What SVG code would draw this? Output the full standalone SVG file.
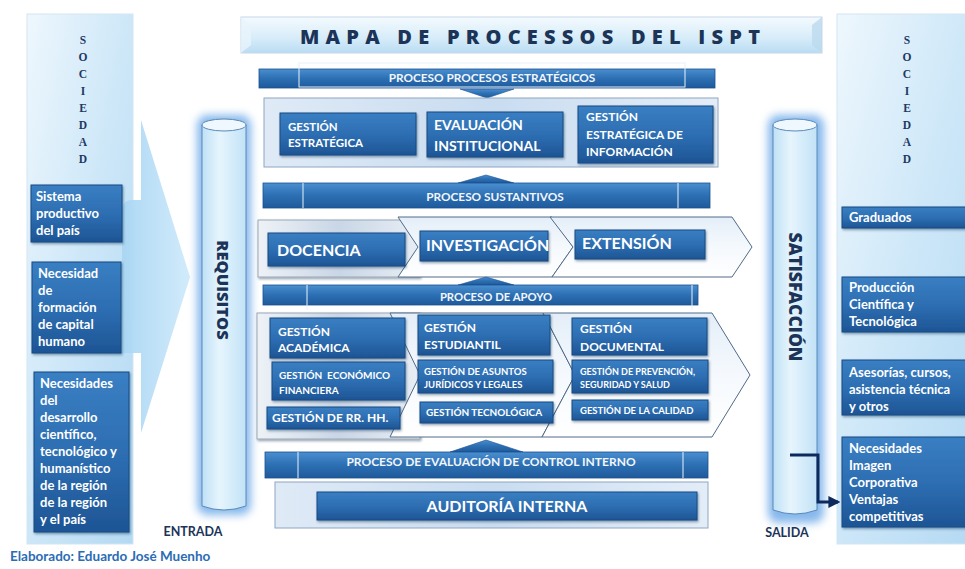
<svg xmlns="http://www.w3.org/2000/svg" width="965" height="569" viewBox="0 0 965 569">
<defs>
<linearGradient id="gBox" x1="0" y1="0" x2="0" y2="1">
<stop offset="0" stop-color="#3a7fc3"/>
<stop offset="0.55" stop-color="#2c6cb0"/>
<stop offset="1" stop-color="#1d5595"/>
</linearGradient>
<linearGradient id="gBan" x1="0" y1="0" x2="0" y2="1">
<stop offset="0" stop-color="#4a8fd0"/>
<stop offset="0.5" stop-color="#2c6fb3"/>
<stop offset="1" stop-color="#1f5a9b"/>
</linearGradient>
<linearGradient id="gPanel" x1="0" y1="0" x2="1" y2="1">
<stop offset="0" stop-color="#eef7fd"/>
<stop offset="0.5" stop-color="#cde7f8"/>
<stop offset="1" stop-color="#b3d9f3"/>
</linearGradient>
<linearGradient id="gTitle" x1="0" y1="0" x2="0" y2="1">
<stop offset="0" stop-color="#f4fafe"/>
<stop offset="0.6" stop-color="#d6ecf9"/>
<stop offset="1" stop-color="#b9dcf3"/>
</linearGradient>
<linearGradient id="gCont" x1="0" y1="0" x2="1" y2="0">
<stop offset="0" stop-color="#dfeaf6"/>
<stop offset="0.5" stop-color="#c9dcf0"/>
<stop offset="1" stop-color="#e3edf8"/>
</linearGradient>
<linearGradient id="gGrey" x1="0" y1="0" x2="1" y2="0">
<stop offset="0" stop-color="#eef2f7"/>
<stop offset="0.5" stop-color="#c9d6e6"/>
<stop offset="1" stop-color="#e8eef5"/>
</linearGradient>
<linearGradient id="gChev" x1="0" y1="0" x2="0" y2="1">
<stop offset="0" stop-color="#e4eef8"/>
<stop offset="0.5" stop-color="#f5f9fd"/>
<stop offset="1" stop-color="#ffffff"/>
</linearGradient>
<linearGradient id="gCyl" x1="0" y1="0" x2="1" y2="0">
<stop offset="0" stop-color="#bfe0f6"/>
<stop offset="0.4" stop-color="#e6f5fd"/>
<stop offset="1" stop-color="#c2e2f7"/>
</linearGradient>
<linearGradient id="gArrow" x1="0" y1="0" x2="1" y2="0">
<stop offset="0" stop-color="#a9d6f3"/>
<stop offset="1" stop-color="#cfeafb"/>
</linearGradient>
<filter id="glow" x="-50%" y="-10%" width="200%" height="120%">
<feGaussianBlur stdDeviation="4"/>
</filter>
<filter id="sh" x="-10%" y="-20%" width="120%" height="150%">
<feDropShadow dx="1" dy="1.5" stdDeviation="1.2" flood-color="#0b2a4e" flood-opacity="0.45"/>
</filter>
<marker id="ah" viewBox="0 0 10 10" refX="8" refY="5" markerWidth="4" markerHeight="4" orient="auto">
<path d="M0,0 L10,5 L0,10 z" fill="#0d2a5c"/>
</marker>
</defs>
<style>
.bx{fill:url(#gBox);stroke:#194a82;stroke-width:1;filter:url(#sh)}
.ban{fill:url(#gBan);stroke:#1b5190;stroke-width:0.8}
.bo{fill:none;stroke:#e8f1fa;stroke-width:1}
.cont{fill:url(#gCont);stroke:#8ea6c2;stroke-width:1}
.chev{fill:url(#gChev);stroke:#4f6a88;stroke-width:1}
.t{font-family:Lato,"Liberation Sans",sans-serif;font-weight:bold;fill:#ffffff}
.bt{font-family:Lato,"Liberation Sans",sans-serif;font-weight:bold;fill:#f2f6fb;text-anchor:middle}
.dk{font-family:Lato,"Liberation Sans",sans-serif;font-weight:bold;fill:#1b3458}
.hv{font-family:"Open Sans","Liberation Sans",sans-serif;font-weight:800;fill:#1b3458}
.soc{font-family:"Liberation Serif",serif;font-weight:bold;font-size:11.5px;fill:#1f3864;text-anchor:middle}
.sar{fill:url(#gBan);stroke:#1b5190;stroke-width:0.6}
</style>
<rect width="965" height="569" fill="#ffffff"/>

<g id="sociedad-left">
<rect x="27" y="14" width="106" height="530" fill="url(#gPanel)" stroke="#d3e5f1"/>
<text class="soc"><tspan x="83" y="44">S</tspan><tspan x="83" y="61">O</tspan><tspan x="83" y="78">C</tspan><tspan x="83" y="95">I</tspan><tspan x="83" y="112">E</tspan><tspan x="83" y="129">D</tspan><tspan x="83" y="146">A</tspan><tspan x="83" y="163">D</tspan></text>
</g>

<g id="entrada-arrow">
<path d="M122,353 L122,212 Q122,200 132,200 L141,200 L141,120 L190,277 L141,433 L141,353 Z" fill="url(#gArrow)" opacity="0.95"/>
</g>

<g id="in-sistema">
<rect class="bx" x="31" y="185" width="91" height="57"/>
<text class="t" font-size="13"><tspan x="36" y="201">Sistema</tspan><tspan x="36" y="218">productivo</tspan><tspan x="36" y="235">del país</tspan></text>
</g>
<g id="in-necesidad">
<rect class="bx" x="32" y="262" width="89" height="91"/>
<text class="t" font-size="13"><tspan x="38" y="278">Necesidad</tspan><tspan x="38" y="295">de</tspan><tspan x="38" y="312">formación</tspan><tspan x="38" y="329">de capital</tspan><tspan x="38" y="346">humano</tspan></text>
</g>
<g id="in-necesidades">
<rect class="bx" x="34" y="372" width="95" height="160"/>
<text class="t" font-size="13"><tspan x="40" y="388">Necesidades</tspan><tspan x="40" y="405">del</tspan><tspan x="40" y="422">desarrollo</tspan><tspan x="40" y="439">científico,</tspan><tspan x="40" y="456">tecnológico y</tspan><tspan x="40" y="473">humanístico</tspan><tspan x="40" y="490">de la región</tspan><tspan x="40" y="507">de la región</tspan><tspan x="40" y="524">y el país</tspan></text>
</g>

<g id="requisitos">
<rect x="197" y="115" width="54" height="400" rx="10" fill="#86b8ec" filter="url(#glow)"/>
<path d="M202,125 L202,506 Q224,514 246,506 L246,125 Z" fill="url(#gCyl)" stroke="#5b88b8"/>
<ellipse cx="224" cy="125" rx="22" ry="6" fill="#eef8fe" stroke="#5b88b8"/>
<text class="hv" font-size="16.5" text-anchor="middle" transform="translate(217,290) rotate(90)">REQUISITOS</text>
<text class="dk" font-size="12.5" x="193" y="536" text-anchor="middle" fill="#1a1a2e">ENTRADA</text>
</g>

<g id="title">
<rect x="241" y="17" width="581" height="36" fill="url(#gTitle)" stroke="#c5d8e8"/>
<path d="M241,17 L251,25 L251,45 L241,53 Z" fill="#e9f4fb" opacity="0.8"/>
<path d="M822,17 L812,25 L812,45 L822,53 Z" fill="#bcd9ee" opacity="0.8"/>
<text class="hv" font-size="20" x="300" y="44" textLength="460" lengthAdjust="spacing" fill="#152f55">MAPA DE PROCESSOS DEL ISPT</text>
</g>

<g id="proc-estrategicos">
<rect class="ban" x="259" y="69" width="456" height="19"/>
<rect class="bo" x="299" y="63" width="386" height="24"/>
<text class="bt" font-size="11.8" x="492" y="82">PROCESO PROCESOS ESTRATÉGICOS</text>
<path class="sar" d="M460,89 L514,89 L487,98 Z"/>
</g>

<g id="estrategicos-group">
<rect class="cont" x="264" y="98" width="454" height="69"/>
</g>
<g id="gestion-estrategica">
<rect class="bx" x="280" y="113" width="136" height="42"/>
<text class="t" font-size="11.5"><tspan x="288" y="131">GESTIÓN</tspan><tspan x="288" y="147">ESTRATÉGICA</tspan></text>
</g>
<g id="evaluacion-institucional">
<rect class="bx" x="427" y="112" width="136" height="45"/>
<text class="t" font-size="14"><tspan x="434" y="130">EVALUACIÓN</tspan><tspan x="434" y="151">INSTITUCIONAL</tspan></text>
</g>
<g id="gestion-info">
<rect class="bx" x="578" y="106" width="135" height="57"/>
<text class="t" font-size="12"><tspan x="586" y="121">GESTIÓN</tspan><tspan x="586" y="139">ESTRATÉGICA DE</tspan><tspan x="586" y="156">INFORMACIÓN</tspan></text>
</g>

<g id="proc-sustantivos">
<path class="sar" d="M458,183 L486,175 L514,183 Z"/>
<rect class="ban" x="263" y="183" width="447" height="25"/>
<line class="bo" x1="303" y1="183" x2="303" y2="208"/>
<line class="bo" x1="678" y1="183" x2="678" y2="208"/>
<text class="bt" font-size="11.8" x="495" y="201">PROCESO SUSTANTIVOS</text>
</g>

<g id="sustantivos-row">
<rect x="258" y="220" width="162" height="57" fill="url(#gGrey)" stroke="#9aa7b6" filter="url(#sh)"/>
<path class="chev" d="M398,217 L552,217 L573,247 L552,277 L398,277 L418,247 Z"/>
<path class="chev" d="M550,217 L732,217 L752,247 L732,277 L552,277 L573,247 Z"/>
</g>
<g id="docencia">
<rect class="bx" x="268" y="233" width="137" height="33"/>
<text class="t" font-size="16" x="277" y="256">DOCENCIA</text>
</g>
<g id="investigacion">
<rect class="bx" x="420" y="231" width="128" height="30"/>
<text class="t" font-size="16" x="426" y="251">INVESTIGACIÓN</text>
</g>
<g id="extension">
<rect class="bx" x="575" y="230" width="130" height="29"/>
<text class="t" font-size="16" x="582" y="249">EXTENSIÓN</text>
</g>

<g id="proc-apoyo">
<path class="sar" d="M458,285 L486,277 L514,285 Z"/>
<rect class="ban" x="263" y="285" width="435" height="20"/>
<path class="bo" d="M307,285 L307,310 M692,285 L692,310"/>
<text class="bt" font-size="11.3" x="496" y="301">PROCESO DE APOYO</text>
</g>

<g id="apoyo-row">
<rect x="257" y="313" width="163" height="126" fill="url(#gGrey)" stroke="#9aa7b6" filter="url(#sh)"/>
<path class="chev" d="M390,313 L543,313 L575,375 L542,437 L390,437 L420,375 Z"/>
<path class="chev" d="M543,313 L712,313 L750,375 L712,437 L542,437 L575,375 Z"/>
</g>
<g id="gestion-academica">
<rect class="bx" x="270" y="318" width="135" height="40"/>
<text class="t" font-size="12"><tspan x="278" y="336">GESTIÓN</tspan><tspan x="278" y="352">ACADÉMICA</tspan></text>
</g>
<g id="gestion-economico">
<rect class="bx" x="272" y="362" width="133" height="38"/>
<text class="t" font-size="10" xml:space="preserve"><tspan x="279" y="379">GESTIÓN  ECONÓMICO</tspan><tspan x="279" y="394">FINANCIERA</tspan></text>
</g>
<g id="gestion-rrhh">
<rect class="bx" x="267" y="407" width="133" height="22"/>
<text class="t" font-size="12" x="272" y="422">GESTIÓN DE RR. HH.</text>
</g>
<g id="gestion-estudiantil">
<rect class="bx" x="418" y="315" width="132" height="40"/>
<text class="t" font-size="12"><tspan x="424" y="332">GESTIÓN</tspan><tspan x="424" y="349">ESTUDIANTIL</tspan></text>
</g>
<g id="gestion-juridicos">
<rect class="bx" x="418" y="360" width="135" height="33"/>
<text class="t" font-size="9.5"><tspan x="424" y="375">GESTIÓN DE ASUNTOS</tspan><tspan x="424" y="388">JURÍDICOS Y LEGALES</tspan></text>
</g>
<g id="gestion-tecnologica">
<rect class="bx" x="420" y="402" width="133" height="21"/>
<text class="t" font-size="10" x="426" y="416">GESTIÓN TECNOLÓGICA</text>
</g>
<g id="gestion-documental">
<rect class="bx" x="572" y="318" width="135" height="37"/>
<text class="t" font-size="12"><tspan x="580" y="333">GESTIÓN</tspan><tspan x="580" y="351">DOCUMENTAL</tspan></text>
</g>
<g id="gestion-prevencion">
<rect class="bx" x="572" y="360" width="136" height="33"/>
<text class="t" font-size="9"><tspan x="580" y="375">GESTIÓN DE PREVENCIÓN,</tspan><tspan x="580" y="388">SEGURIDAD Y SALUD</tspan></text>
</g>
<g id="gestion-calidad">
<rect class="bx" x="572" y="400" width="136" height="20"/>
<text class="t" font-size="9.5" x="580" y="414">GESTIÓN DE LA CALIDAD</text>
</g>

<g id="proc-control-interno">
<path class="sar" d="M450,452 L486,440 L523,452 Z"/>
<rect class="ban" x="265" y="452" width="443" height="26"/>
<path class="bo" d="M298,452 L298,478 M683,452 L683,478"/>
<text class="bt" font-size="12" x="491" y="466">PROCESO DE EVALUACIÓN DE CONTROL INTERNO</text>
</g>

<g id="auditoria">
<rect class="cont" x="275" y="482" width="433" height="46"/>
<rect class="bx" x="317" y="492" width="380" height="28"/>
<text class="t" font-size="16" x="507" y="512" text-anchor="middle">AUDITORÍA INTERNA</text>
</g>

<g id="satisfaccion">
<rect x="768" y="115" width="56" height="408" rx="10" fill="#86b8ec" filter="url(#glow)"/>
<path d="M773,125 L773,510 Q795,518 817,510 L817,125 Z" fill="url(#gCyl)" stroke="#5b88b8"/>
<ellipse cx="795" cy="125" rx="22" ry="6" fill="#eef8fe" stroke="#5b88b8"/>
<text class="hv" font-size="17.5" text-anchor="middle" transform="translate(789,297) rotate(90)">SATISFACCIÓN</text>
<text class="dk" font-size="12.5" x="787" y="537" text-anchor="middle" fill="#1a1a2e">SALIDA</text>
</g>

<g id="sociedad-right">
<rect x="837" y="14" width="140" height="530" fill="url(#gPanel)" stroke="#d3e5f1"/>
<text class="soc"><tspan x="907" y="44">S</tspan><tspan x="907" y="61">O</tspan><tspan x="907" y="78">C</tspan><tspan x="907" y="95">I</tspan><tspan x="907" y="112">E</tspan><tspan x="907" y="129">D</tspan><tspan x="907" y="146">A</tspan><tspan x="907" y="163">D</tspan></text>
</g>
<g id="out-graduados">
<rect class="bx" x="842" y="207" width="130" height="21"/>
<text class="t" font-size="13" x="849" y="222">Graduados</text>
</g>
<g id="out-produccion">
<rect class="bx" x="842" y="277" width="130" height="55"/>
<text class="t" font-size="13"><tspan x="849" y="292">Producción</tspan><tspan x="849" y="309">Científica y</tspan><tspan x="849" y="326">Tecnológica</tspan></text>
</g>
<g id="out-asesorias">
<rect class="bx" x="842" y="360" width="130" height="55"/>
<text class="t" font-size="13"><tspan x="849" y="377">Asesorías, cursos,</tspan><tspan x="849" y="394">asistencia técnica</tspan><tspan x="849" y="411">y otros</tspan></text>
</g>
<g id="out-necesidades">
<rect class="bx" x="842" y="437" width="130" height="90"/>
<text class="t" font-size="13"><tspan x="849" y="453">Necesidades</tspan><tspan x="849" y="470">Imagen</tspan><tspan x="849" y="487">Corporativa</tspan><tspan x="849" y="504">Ventajas</tspan><tspan x="849" y="521">competitivas</tspan></text>
</g>

<g id="connectors">
<path d="M790,455 L818,455 L818,502 L838,502" fill="none" stroke="#0d2a5c" stroke-width="3" marker-end="url(#ah)"/>
</g>

<text font-family="Lato,'Liberation Sans',sans-serif" font-weight="bold" font-size="13.5" fill="#2a6cb5" x="10" y="561">Elaborado: Eduardo José Muenho</text>
</svg>
